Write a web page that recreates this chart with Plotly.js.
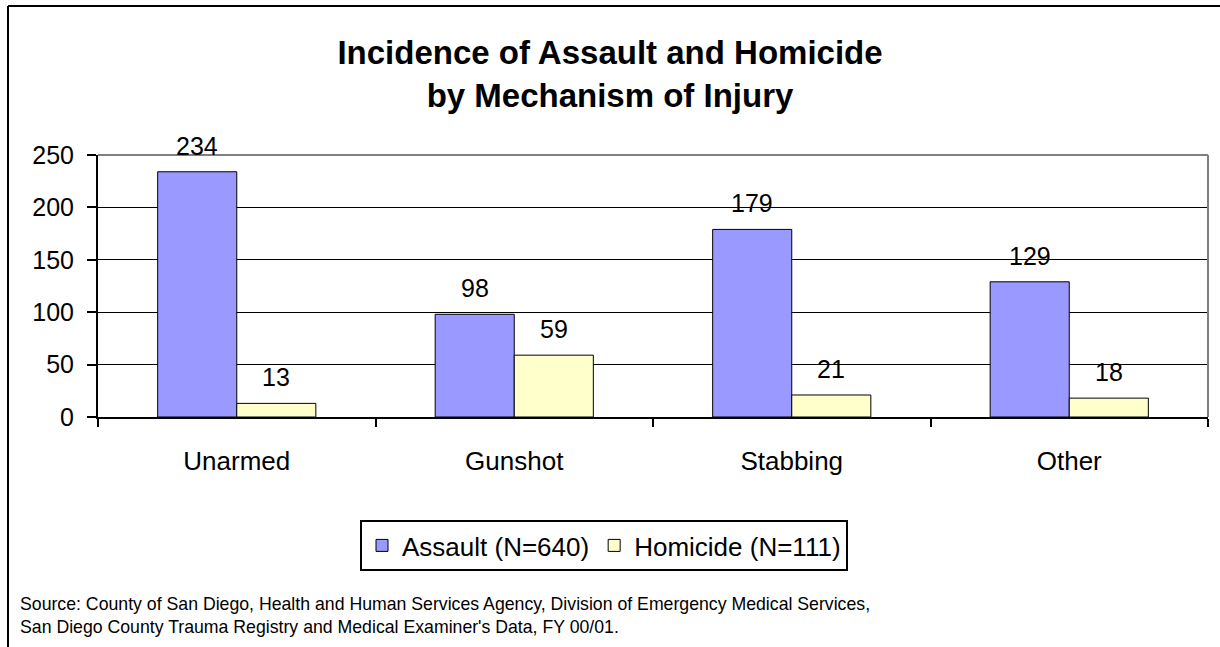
<!DOCTYPE html>
<html>
<head>
<meta charset="utf-8">
<script src="https://cdn.plot.ly/plotly-3.0.1.min.js"></script>
<style>
html,body{margin:0;padding:0;background:#fff;}
#chart{width:1220px;height:647px;}
</style>
</head>
<body>
<div id="chart"></div>
<script>
const categories = ["Unarmed", "Gunshot", "Stabbing", "Other"];
const assault = [234, 98, 179, 129];
const homicide = [13, 59, 21, 18];
const seriesNames = ["Assault (N=640)", "Homicide (N=111)"];
const yTicks = [0, 50, 100, 150, 200, 250];
const titleText = "Incidence of Assault and Homicide<br>by Mechanism of Injury";
const sourceText = "Source: County of San Diego, Health and Human Services Agency, Division of Emergency Medical Services,<br>San Diego County Trauma Registry and Medical Examiner's Data, FY 00/01.";

const W = 1220, H = 647;
const ml = 98, mr = 12, mt = 155, mb = 230;
const pw = W - ml - mr, ph = H - mt - mb;
const px = v => (v - ml) / pw;          // pixel -> paper x
const py = v => (H - mb - v) / ph;      // pixel -> paper y

const FONT = "Arial, 'Liberation Sans', sans-serif";
const barWidthPx = pw / categories.length * 0.57 / 2;

const traces = [
  {
    type: "bar", name: seriesNames[0], x: categories, y: assault,
    marker: {color: "#9999FF", line: {color: "#000", width: 1}},
    hoverinfo: "skip"
  },
  {
    type: "bar", name: seriesNames[1], x: categories, y: homicide,
    marker: {color: "#FFFFCC", line: {color: "#000", width: 1}},
    hoverinfo: "skip"
  }
];

const annotations = [];
categories.forEach((c, i) => {
  annotations.push({x: c, y: assault[i], xref: "x", yref: "y", text: String(assault[i]),
    showarrow: false, yanchor: "bottom", xshift: -barWidthPx / 2, yshift: 10,
    font: {family: FONT, size: 25, color: "#000"}});
  annotations.push({x: c, y: homicide[i], xref: "x", yref: "y", text: String(homicide[i]),
    showarrow: false, yanchor: "bottom", xshift: barWidthPx / 2, yshift: 10,
    font: {family: FONT, size: 25, color: "#000"}});
});
annotations.push({
  xref: "paper", yref: "paper", x: px(18), y: py(592), xanchor: "left", yanchor: "top",
  align: "left", showarrow: false, text: sourceText,
  font: {family: FONT, size: 17.7, color: "#000"}
});

const shapes = [
  // outer chart frame (left and top)
  {type: "line", xref: "paper", yref: "paper", x0: px(8), x1: px(8), y0: py(H + 5), y1: py(6), line: {color: "#000", width: 2}},
  {type: "line", xref: "paper", yref: "paper", x0: px(8), x1: px(W + 5), y0: py(6), y1: py(6), line: {color: "#000", width: 2}},
  // grey plot-area border top and right
  {type: "line", xref: "paper", yref: "paper", x0: 0, x1: 1, y0: 1, y1: 1, line: {color: "#808080", width: 2}},
  {type: "line", xref: "paper", yref: "paper", x0: 1, x1: 1, y0: 0, y1: 1, line: {color: "#808080", width: 2}}
];

const layout = {
  width: W, height: H,
  margin: {l: ml, r: mr, t: mt, b: mb, pad: 0},
  paper_bgcolor: "#fff", plot_bgcolor: "#fff",
  font: {family: FONT, color: "#000"},
  title: {
    text: titleText, x: 0.5, xref: "container", xanchor: "center",
    y: 1 - 64 / H, yref: "container", yanchor: "top",
    font: {family: FONT, size: 33, color: "#000", weight: "bold"}
  },
  barmode: "group", bargap: 0.43, bargroupgap: 0,
  showlegend: true,
  legend: {
    orientation: "h", x: px(360), xanchor: "left", y: py(520), yanchor: "top",
    bordercolor: "#000", borderwidth: 2, bgcolor: "#fff",
    font: {family: FONT, size: 26, color: "#000"}
  },
  xaxis: {
    type: "category", showline: true, linecolor: "#000", linewidth: 2,
    ticks: "outside", tickson: "boundaries", ticklen: 8, tickwidth: 2, tickcolor: "#000",
    showgrid: false, zeroline: false, ticklabelstandoff: 20,
    tickfont: {family: FONT, size: 26, color: "#000"}, fixedrange: true
  },
  yaxis: {
    range: [0, 250], tickvals: yTicks, ticktext: yTicks.map(String),
    showline: true, linecolor: "#000", linewidth: 2,
    ticks: "outside", ticklen: 9, tickwidth: 2, tickcolor: "#000",
    showgrid: true, gridcolor: "#000", gridwidth: 1, zeroline: false,
    ticklabelstandoff: 8,
    tickfont: {family: FONT, size: 25, color: "#000"}, fixedrange: true
  },
  annotations: annotations,
  shapes: shapes
};

Plotly.newPlot("chart", traces, layout, {displayModeBar: false, staticPlot: true});
</script>
</body>
</html>
